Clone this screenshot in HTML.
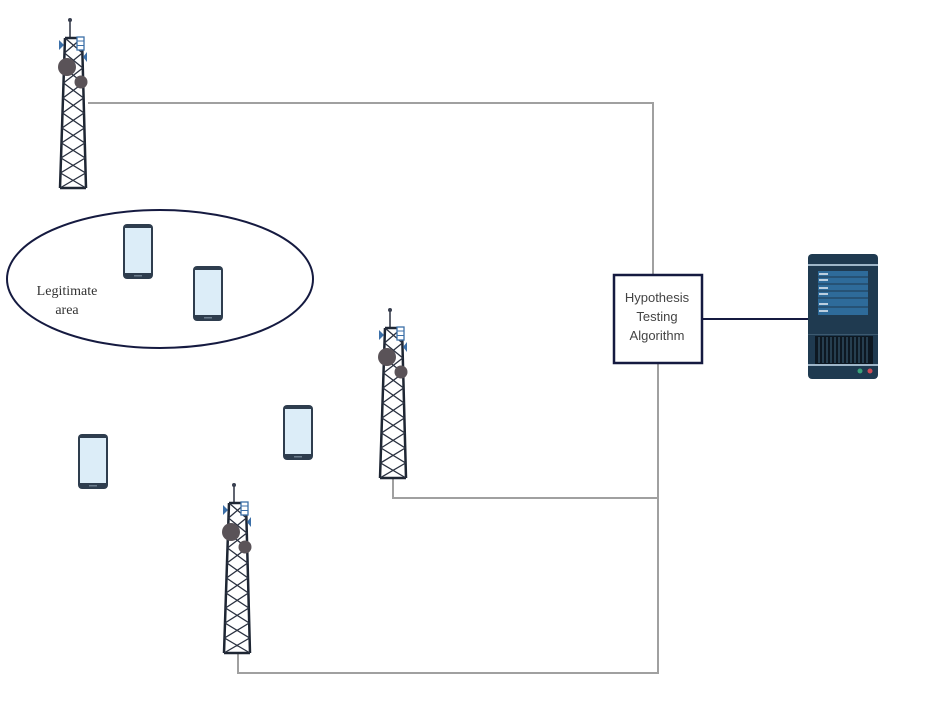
<!DOCTYPE html>
<html><head><meta charset="utf-8"><style>html,body{margin:0;padding:0;background:#fff}svg{display:block}</style></head>
<body>
<svg width="925" height="701" viewBox="0 0 925 701" xmlns="http://www.w3.org/2000/svg">
<defs>
<g id="tower">
  <line x1="12" y1="2" x2="12" y2="20" stroke="#2a3140" stroke-width="1.5"/>
  <circle cx="12" cy="2" r="2" fill="#3a4050"/>
  <path d="M7,20 L24,20 M7,20 L2,170 M24,20 L28,170 M2,170 L28,170" stroke="#1e2633" stroke-width="2.5" fill="none"/>
  <path d="M7,20 L24.4,35 L6,50 L25.2,65 L5,80 L26,95 L4,110 L26.8,125 L3,140 L27.6,155 L2,170 M24,20 L6.5,35 L24.8,50 L5.5,65 L25.6,80 L4.5,95 L26.4,110 L3.5,125 L27.2,140 L2.5,155 L28,170" stroke="#2a3140" stroke-width="1.3" fill="none"/>
  <path d="M1,22 L6,27 L1,32 Z" fill="#3b6fa8"/>
  <path d="M29,34 L25,39 L29,44 Z" fill="#3b6fa8"/>
  <rect x="19" y="19" width="7" height="13" fill="#fff" stroke="#3b6fa8" stroke-width="1.3"/>
  <line x1="19" y1="23" x2="26" y2="23" stroke="#3b6fa8"/><line x1="19" y1="27.5" x2="26" y2="27.5" stroke="#3b6fa8"/>
  <circle cx="9" cy="49" r="9" fill="#5a5358"/>
  <circle cx="23" cy="64" r="6.5" fill="#5a5358"/>
</g>
<g id="phone">
  <rect x="0" y="0" width="30" height="55" rx="4" fill="#2e3d4e"/>
  <rect x="2" y="4" width="26" height="45" fill="#dcedf8"/>
  <rect x="11" y="51" width="8" height="1.5" fill="#6b7c8c"/>
</g>
</defs>
<g stroke="#a0a0a0" stroke-width="2" fill="none">
  <path d="M88,103 H653 V274"/>
  <path d="M658,364 V673 H238 V653"/>
  <path d="M393,478 V498 H658"/>
</g>
<line x1="703" y1="319" x2="808" y2="319" stroke="#151a40" stroke-width="2"/>
<ellipse cx="160" cy="279" rx="153" ry="69" fill="none" stroke="#151a40" stroke-width="2"/>
<text x="67" y="295" font-family="Liberation Serif, serif" font-size="14" fill="#333" text-anchor="middle">Legitimate</text>
<text x="67" y="314" font-family="Liberation Serif, serif" font-size="14" fill="#333" text-anchor="middle">area</text>
<use href="#tower" x="58" y="18"/>
<use href="#tower" x="378" y="308"/>
<use href="#tower" x="222" y="483"/>
<use href="#phone" x="123" y="224"/>
<use href="#phone" x="193" y="266"/>
<use href="#phone" x="283" y="405"/>
<use href="#phone" x="78" y="434"/>
<rect x="614" y="275" width="88" height="88" fill="#fff" stroke="#151a40" stroke-width="2.5"/>
<g font-family="Liberation Sans, sans-serif" font-size="13" fill="#444" text-anchor="middle">
  <text x="657" y="302">Hypothesis</text>
  <text x="657" y="321">Testing</text>
  <text x="657" y="340">Algorithm</text>
</g>
<g>
  <rect x="808" y="254" width="70" height="125" rx="4" fill="#1f3a50"/>
  <rect x="808" y="264" width="70" height="2" fill="#9fb6c8"/>
  <rect x="818" y="271" width="50" height="44" fill="#2e6b9a"/>
  <g stroke="#e8f0f6" stroke-width="1.5">
    <line x1="819" y1="274" x2="828" y2="274"/><line x1="819" y1="280" x2="828" y2="280"/>
    <line x1="819" y1="288" x2="828" y2="288"/><line x1="819" y1="294" x2="828" y2="294"/>
    <line x1="819" y1="304" x2="828" y2="304"/><line x1="819" y1="311" x2="828" y2="311"/>
  </g>
  <g stroke="#1f3a50" stroke-width="1"><line x1="818" y1="277" x2="868" y2="277"/><line x1="818" y1="284" x2="868" y2="284"/><line x1="818" y1="291" x2="868" y2="291"/><line x1="818" y1="298" x2="868" y2="298"/><line x1="818" y1="307" x2="868" y2="307"/></g>
  <rect x="808" y="334" width="70" height="1" fill="#3d5a70"/>
  <rect x="815" y="336" width="58" height="28" fill="#0d1822"/>
  <g stroke="#2f4a5e" stroke-width="1.5">
    <line x1="819" y1="337" x2="819" y2="363"/><line x1="823" y1="337" x2="823" y2="363"/><line x1="827" y1="337" x2="827" y2="363"/><line x1="831" y1="337" x2="831" y2="363"/><line x1="835" y1="337" x2="835" y2="363"/><line x1="839" y1="337" x2="839" y2="363"/><line x1="843" y1="337" x2="843" y2="363"/><line x1="847" y1="337" x2="847" y2="363"/><line x1="851" y1="337" x2="851" y2="363"/><line x1="855" y1="337" x2="855" y2="363"/><line x1="859" y1="337" x2="859" y2="363"/><line x1="863" y1="337" x2="863" y2="363"/><line x1="867" y1="337" x2="867" y2="363"/>
  </g>
  <rect x="808" y="364" width="70" height="2" fill="#9fb6c8"/>
  <circle cx="860" cy="371" r="2.5" fill="#3aa27a"/>
  <circle cx="870" cy="371" r="2.5" fill="#d04a55"/>
</g>
</svg>
</body></html>
